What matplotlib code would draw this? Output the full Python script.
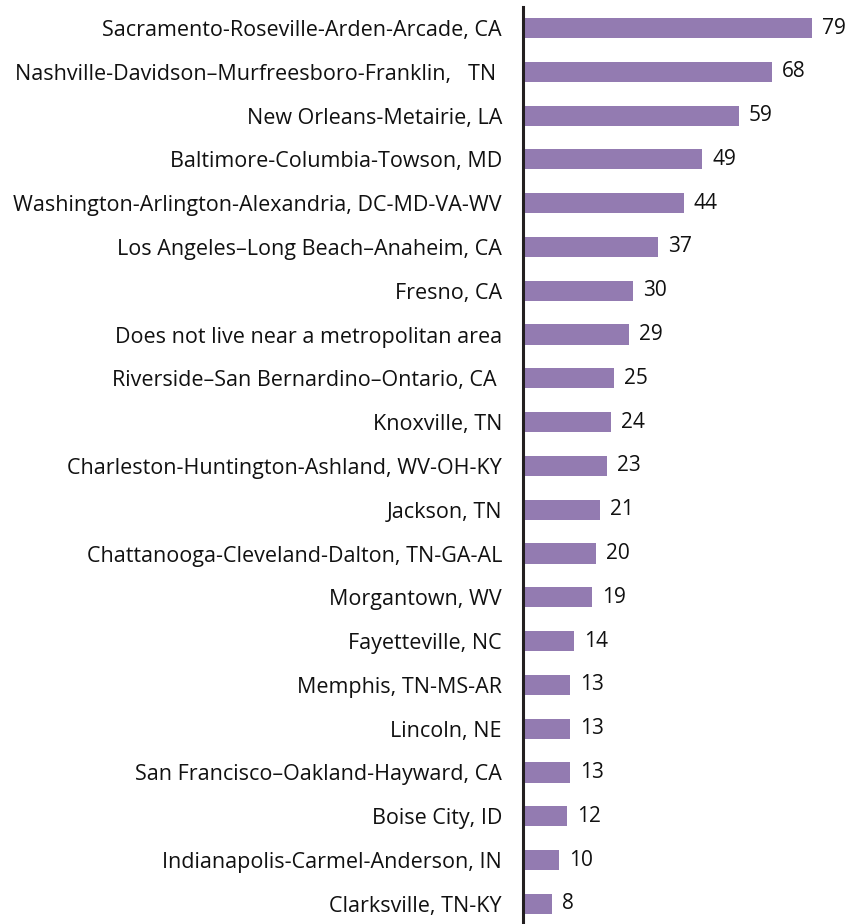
import matplotlib.pyplot as plt

metros = [
    "Sacramento-Roseville-Arden-Arcade, CA",
    "Nashville-Davidson\u2013Murfreesboro-Franklin,   TN ",
    "New Orleans-Metairie, LA",
    "Baltimore-Columbia-Towson, MD",
    "Washington-Arlington-Alexandria, DC-MD-VA-WV",
    "Los Angeles\u2013Long Beach\u2013Anaheim, CA",
    "Fresno, CA",
    "Does not live near a metropolitan area",
    "Riverside\u2013San Bernardino\u2013Ontario, CA ",
    "Knoxville, TN",
    "Charleston-Huntington-Ashland, WV-OH-KY",
    "Jackson, TN",
    "Chattanooga-Cleveland-Dalton, TN-GA-AL",
    "Morgantown, WV",
    "Fayetteville, NC",
    "Memphis, TN-MS-AR",
    "Lincoln, NE",
    "San Francisco\u2013Oakland-Hayward, CA",
    "Boise City, ID",
    "Indianapolis-Carmel-Anderson, IN",
    "Clarksville, TN-KY",
]
counts = [79, 68, 59, 49, 44, 37, 30, 29, 25, 24, 23, 21, 20, 19, 14, 13, 13, 13, 12, 10, 8]

plt.rcParams['font.family'] = ['Open Sans', 'DejaVu Sans']

fig = plt.figure(figsize=(8.5, 9.24), dpi=100)
ax = fig.add_axes([0.615, 0.0, 0.385, 917 / 924])

pos = list(range(len(metros)))
ax.barh(pos, counts, height=0.46, color='#937bb1')
for p, c in zip(pos, counts):
    ax.text(c + 2.7, p, str(c), va='center', ha='left', fontsize=15, color='#111111')

ax.set_xlim(0, 89.3)
ax.set_ylim(20.46, -0.48)
ax.set_yticks(pos)
ax.set_yticklabels(metros, fontsize=15.5, color='#111111')
ax.tick_params(axis='y', length=0, pad=15)
ax.set_xticks([])

for side in ['top', 'right', 'bottom']:
    ax.spines[side].set_visible(False)
ax.spines['left'].set_linewidth(2.2)
ax.spines['left'].set_color('#231f20')

fig.savefig('out.png', dpi=100)
